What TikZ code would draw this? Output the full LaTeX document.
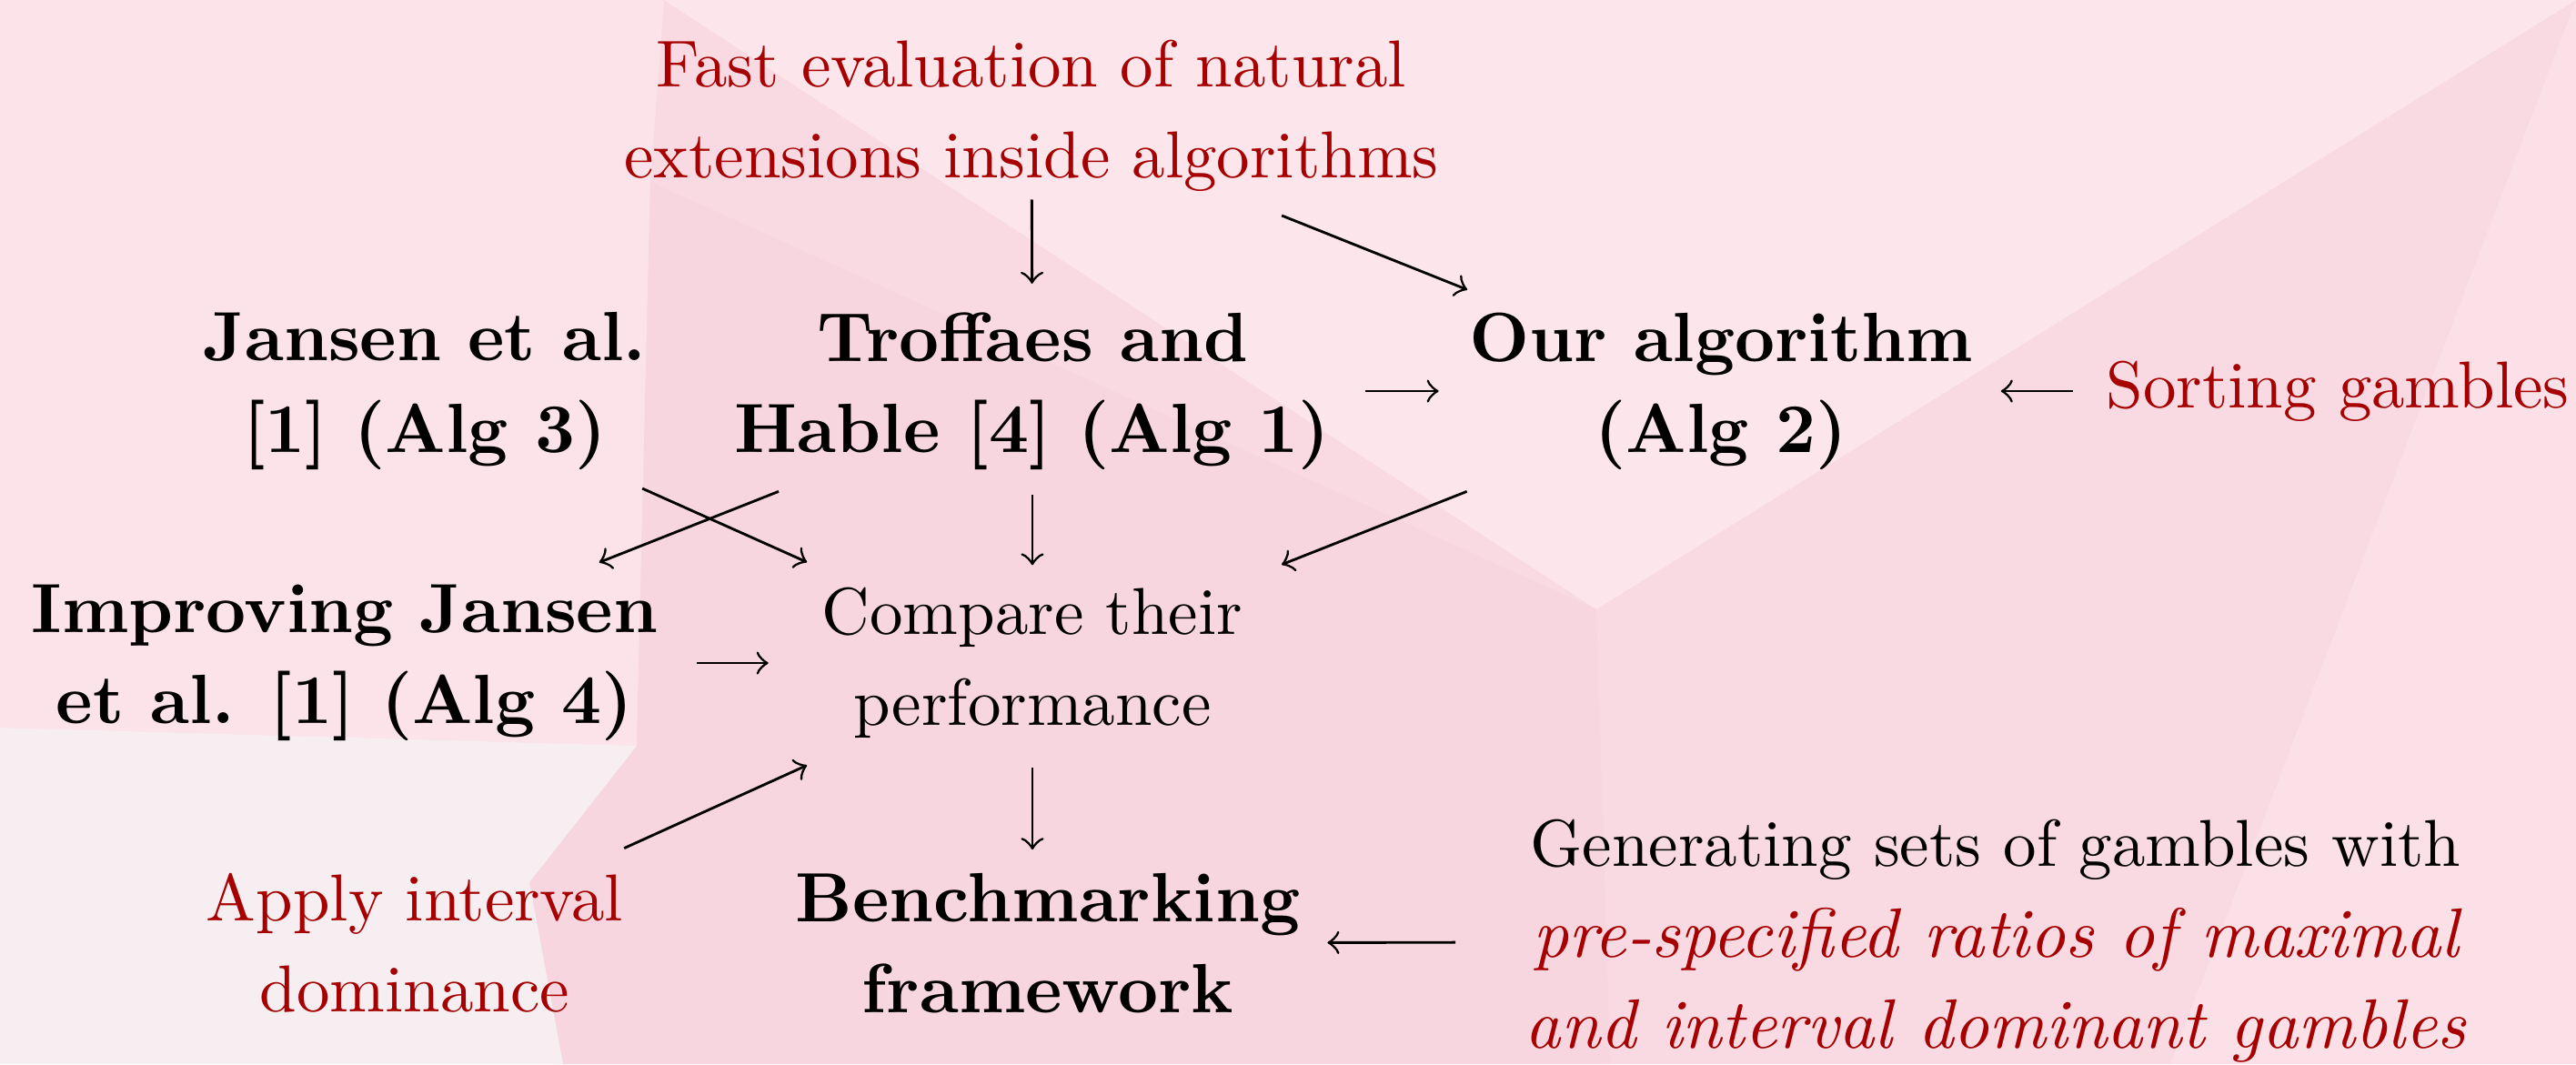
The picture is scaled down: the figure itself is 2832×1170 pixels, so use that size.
\documentclass[tikz,border=0pt]{standalone}
\usetikzlibrary{calc}
\definecolor{accent}{RGB}{166,0,0}
\definecolor{bgbase}{HTML}{F9DAE2}
\definecolor{bglight}{HTML}{FBE3E9}
\definecolor{bgwedge}{HTML}{FCE5EB}
\definecolor{bgwhite}{HTML}{F6EEF1}
\definecolor{bgdark}{HTML}{F8D6DF}
\definecolor{bgright}{HTML}{FBE0E7}
\newcommand{\itred}[1]{\textcolor{accent}{\fontsize{10.75}{14}\selectfont\itshape #1}}
\begin{document}
\begin{tikzpicture}[x=0.13986pt,y=-0.13986pt,
  txt/.style={align=center, inner sep=0pt, font=\fontsize{10.2}{14}\selectfont},
  boldtxt/.style={txt, font=\fontsize{10.72}{14}\selectfont\bfseries},
  redtxt/.style={txt, text=accent},
  arr/.style={->, line width=0.4pt}]
\useasboundingbox (0,0) rectangle (2832,1170);
% background (low-poly)
\fill[bgbase] (0,0) rectangle (2832,1170);
\fill[bglight] (0,0) -- (730,0) -- (715,200) -- (700,820) -- (0,800) -- cycle;
\fill[bgwedge] (730,0) -- (2832,0) -- (1755,670) -- cycle;
\fill[bgdark] (715,200) -- (1755,670) -- (1770,1170) -- (619,1170) -- (582,970) -- (700,820) -- cycle;
\fill[bgwhite] (0,800) -- (700,820) -- (582,970) -- (619,1170) -- (0,1170) -- cycle;
\fill[bgright] (2832,0) -- (2386,1170) -- (2832,1170) -- cycle;
% nodes
\node[redtxt] (fast) at (1134,127) {Fast evaluation of natural\\extensions inside algorithms};
\node[boldtxt] (jansen) at (467,430) {Jansen et al.\\{[1]} (Alg 3)};
\node[boldtxt] (troffaes) at (1135,430) {Troffaes and\\Hable [4] (Alg 1)};
\node[boldtxt] (our) at (1892,430) {Our algorithm\\(Alg 2)};
\node[redtxt] (sorting) at (2570,430) {Sorting gambles};
\node[boldtxt] (improving) at (379,729) {Improving Jansen\\et al. [1] (Alg 4)};
\node[txt] (compare) at (1135,729) {Compare their\\performance};
\node[redtxt] (apply) at (456,1037) {Apply interval\\dominance};
\node[boldtxt] (bench) at (1152,1037) {Benchmarking\\framework};
\node[txt] (gen) at (2194,1035) {Generating sets of gambles with\\\itred{pre-specified ratios of maximal}\\\itred{and interval dominant gambles}};
% connectors
\draw[arr] ($(fast)!0.305!(troffaes)$) -- ($(fast)!0.61!(troffaes)$);
\draw[arr] ($(fast)!0.363!(our)$) -- ($(fast)!0.632!(our)$);
\draw[arr] ($(troffaes)!0.483!(our)$) -- ($(troffaes)!0.590!(our)$);
\draw[arr] ($(sorting)!0.429!(our)$) -- ($(sorting)!0.546!(our)$);
\draw[arr] ($(jansen)!0.358!(compare)$) -- ($(jansen)!0.629!(compare)$);
\draw[arr] ($(troffaes)!0.369!(improving)$) -- ($(troffaes)!0.630!(improving)$);
\draw[arr] ($(troffaes)!0.38!(compare)$) -- ($(troffaes)!0.64!(compare)$);
\draw[arr] ($(our)!0.369!(compare)$) -- ($(our)!0.638!(compare)$);
\draw[arr] ($(improving)!0.512!(compare)$) -- ($(improving)!0.616!(compare)$);
\draw[arr] ($(apply)!0.339!(compare)$) -- ($(apply)!0.635!(compare)$);
\draw[arr] ($(compare)!0.373!(compare|-bench)$) -- ($(compare)!0.666!(compare|-bench)$);
\draw[arr] ($(gen)!0.570!(bench)$) -- ($(gen)!0.705!(bench)$);
\end{tikzpicture}
\end{document}
